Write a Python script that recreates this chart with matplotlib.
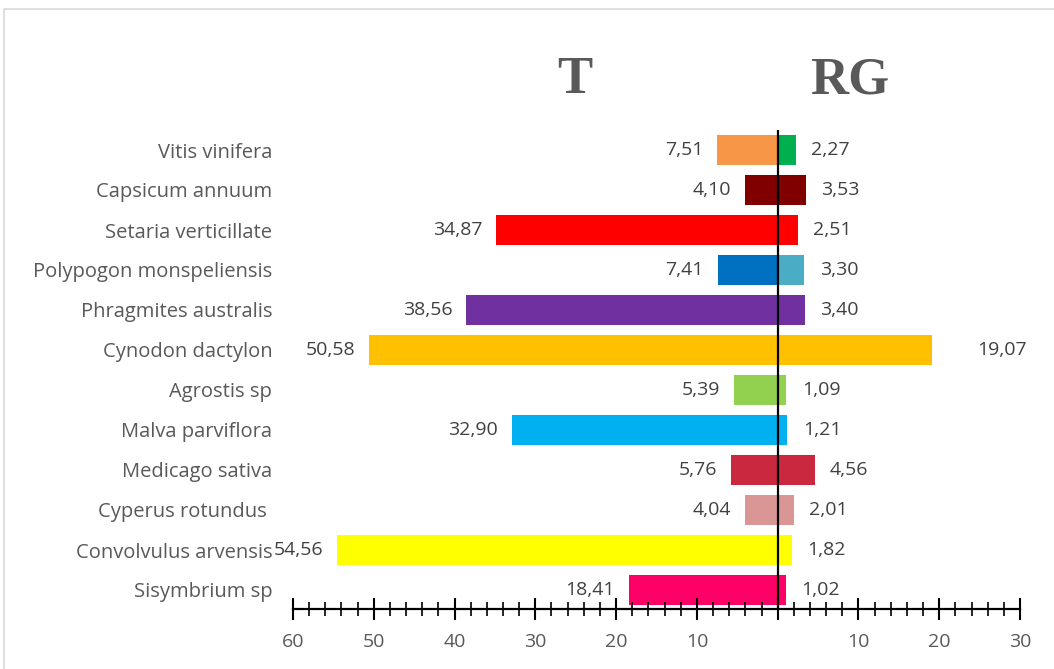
import matplotlib.pyplot as plt
from matplotlib.patches import Rectangle
from matplotlib.ticker import MultipleLocator, FixedLocator

# data, top to bottom as in the chart
species = ['Vitis vinifera', 'Capsicum annuum', 'Setaria verticillate',
           'Polypogon monspeliensis', 'Phragmites australis', 'Cynodon dactylon',
           'Agrostis sp', 'Malva parviflora', 'Medicago sativa',
           'Cyperus rotundus ', 'Convolvulus arvensis', 'Sisymbrium sp']
t_vals = [7.51, 4.10, 34.87, 7.41, 38.56, 50.58, 5.39, 32.90, 5.76, 4.04, 54.56, 18.41]
rg_vals = [2.27, 3.53, 2.51, 3.30, 3.40, 19.07, 1.09, 1.21, 4.56, 2.01, 1.82, 1.02]
t_colors = ['#F79646', '#800000', '#FF0000', '#0070C0', '#7030A0', '#FFC000',
            '#92D050', '#00B0F0', '#C9283E', '#D99694', '#FFFF00', '#FF0066']
rg_colors = ['#00B050', '#800000', '#FF0000', '#4BACC6', '#7030A0', '#FFC000',
             '#92D050', '#00B0F0', '#C9283E', '#D99694', '#FFFF00', '#FF0066']
tick_vals = [-60, -50, -40, -30, -20, -10, 0, 10, 20, 30]
tick_labels = ['60', '50', '40', '30', '20', '10', '', '10', '20', '30']

plt.rcParams['font.family'] = ['Open Sans', 'DejaVu Sans']

fig = plt.figure(figsize=(10.54, 6.69), dpi=100)
# light chart-area border
fig.patches.append(Rectangle((4 / 1054, -0.1), 1.2, 1.1 - 9 / 669,
                             transform=fig.transFigure, fill=False,
                             edgecolor='#D9D9D9', linewidth=1.2))

ax = fig.add_axes([293 / 1054, 60 / 669, 727 / 1054, 479 / 669])

n = len(species)
ypos = [n - 1 - i for i in range(n)]

ax.barh(ypos, [-v for v in t_vals], height=0.75, color=t_colors)
ax.barh(ypos, rg_vals, height=0.75, color=rg_colors)

for name, y, tv, rv in zip(species, ypos, t_vals, rg_vals):
    ax.annotate(f'{tv:.2f}'.replace('.', ','), (-tv, y), xytext=(-10, 0),
                textcoords='offset points', ha='right', va='center',
                fontsize=14, color='#404040')
    # the Cynodon RG label sits further out in the original
    dx = 33 if name == 'Cynodon dactylon' else 11
    ax.annotate(f'{rv:.2f}'.replace('.', ','), (rv, y), xytext=(dx, 0),
                textcoords='offset points', ha='left', va='center',
                fontsize=14, color='#404040')

ax.axvline(0, color='black', linewidth=1.6)

ax.set_xlim(-60, 30)
ax.set_ylim(-0.475, 11.5)
ax.set_yticks(ypos)
ax.set_yticklabels(species, fontsize=14.5, color='#595959')
ax.tick_params(axis='y', length=0, pad=15)

ax.xaxis.set_major_locator(FixedLocator(tick_vals))
ax.set_xticklabels(tick_labels)
ax.xaxis.set_minor_locator(MultipleLocator(2))
ax.tick_params(axis='x', which='major', direction='inout', length=16, width=1.5,
               labelsize=14, labelcolor='#595959', pad=9)
ax.tick_params(axis='x', which='minor', direction='inout', length=10, width=1.2)

for s in ['top', 'right', 'left']:
    ax.spines[s].set_visible(False)
ax.spines['bottom'].set_linewidth(1.6)

fig.text(575 / 1054, 1 - 80 / 669, 'T', family='Liberation Serif', fontweight='bold',
         fontsize=38, color='#595959', ha='center', va='center')
fig.text(850 / 1054, 1 - 80 / 669, 'RG', family='Liberation Serif', fontweight='bold',
         fontsize=38, color='#595959', ha='center', va='center')

fig.savefig('out.png', dpi=100)
